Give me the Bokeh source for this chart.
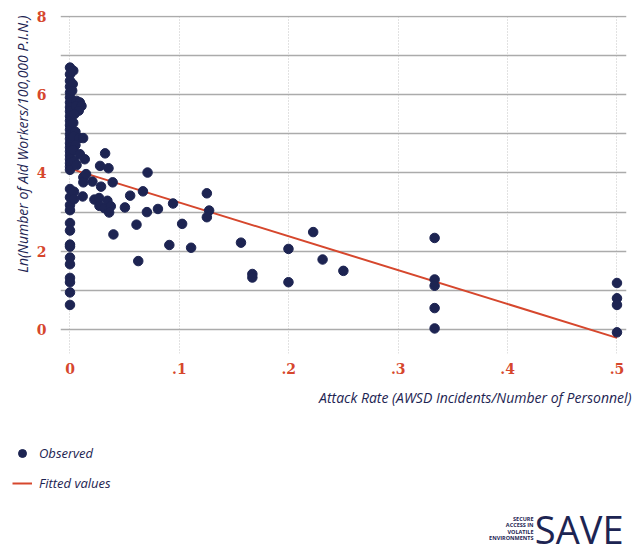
from bokeh.plotting import figure
from bokeh.models import (Range1d, FixedTicker, Legend, LegendItem, Label, Title)
from bokeh.embed import file_html
from bokeh.resources import INLINE

# ---------------- data ----------------
obs_x = [0.0]*23 + [0.0]*14 + [
    0.003, 0.0025, 0.002, 0.006, 0.009, 0.0055, 0.0105, 0.008, 0.004, 0.003,
    0.005, 0.003, 0.0085, 0.012, 0.005, 0.003, 0.009, 0.0135, 0.004, 0.006,
    0.0037, 0.0037, 0.0116, 0.0122, 0.0122, 0.0147, 0.0205, 0.0284, 0.0275, 0.0352,
    0.0321, 0.0223, 0.0266, 0.0269, 0.0315, 0.0342, 0.0373, 0.0358, 0.0502, 0.055,
    0.0397, 0.039, 0.0608, 0.0624, 0.0667, 0.0709, 0.0703, 0.0804, 0.0942, 0.1025,
    0.0908, 0.1107, 0.1251, 0.1272, 0.1251, 0.1563, 0.1667, 0.1667, 0.1997, 0.1997,
    0.2223, 0.2309, 0.2499,
    0.3333, 0.3333, 0.3333, 0.3333, 0.3333,
    0.5, 0.5, 0.5, 0.5]
obs_y = [6.69, 6.52, 6.35, 6.20, 6.05, 5.93, 5.80, 5.68, 5.57, 5.45, 5.33, 5.22,
         5.10, 4.98, 4.87, 4.76, 4.65, 4.55, 4.45, 4.35, 4.25, 4.16, 4.08,
         3.59, 3.38, 3.18, 3.05, 2.72, 2.53, 2.17, 2.12, 1.84, 1.67, 1.32, 1.21, 0.95, 0.63,
         6.61, 6.27, 6.10, 5.84, 5.80, 5.71, 5.71, 5.59, 5.50, 5.28,
         5.05, 4.93, 4.89, 4.89, 4.71, 4.58, 4.48, 4.35, 4.30, 4.20,
         3.52, 3.33, 3.40, 3.89, 3.76, 3.97, 3.78, 3.65, 4.18, 4.12,
         4.50, 3.32, 3.36, 3.16, 3.10, 3.29, 3.15, 2.99, 3.12, 3.42,
         2.43, 3.76, 2.68, 1.75, 3.53, 4.01, 3.00, 3.08, 3.22, 2.70,
         2.16, 2.09, 3.48, 3.04, 2.87, 2.22, 1.42, 1.33, 2.06, 1.21,
         2.49, 1.79, 1.50,
         2.34, 1.28, 1.12, 0.55, 0.03,
         1.19, 0.80, 0.63, -0.07]

fit_x = [0.0, 0.5]
fit_y = [4.11, -0.21]

x_ticks = [0, 0.1, 0.2, 0.3, 0.4, 0.5]
x_tick_labels = ["0", ".1", ".2", ".3", ".4", ".5"]
y_ticks = [0, 2, 4, 6, 8]
y_grid = [0, 1, 2, 3, 4, 5, 6, 7, 8]

x_title = "Attack Rate (AWSD Incidents/Number of Personnel)"
y_title = "Ln(Number of Aid Workers/100,000 P.I.N.)"
legend_labels = ["Observed", "Fitted values"]
logo_big = "SAVE"
logo_small = ["SECURE", "ACCESS IN", "VOLATILE", "ENVIRONMENTS"]

NAVY = "#1d2452"
RED = "#d6472d"

# ---------------- main chart ----------------
p = figure(width=640, height=387, output_backend="svg", toolbar_location=None,
           x_range=Range1d(-0.00868, 0.5087), y_range=Range1d(-0.61, 8.02),
           min_border_left=60, min_border_right=14, min_border_top=15,
           min_border_bottom=34)
p.outline_line_color = None
p.background_fill_color = "white"
p.border_fill_color = "white"

p.xgrid.ticker = FixedTicker(ticks=x_ticks)
p.ygrid.ticker = FixedTicker(ticks=y_grid)
p.xgrid.grid_line_color = "#c4c4c4"
p.xgrid.grid_line_dash = "1 2"
p.xgrid.grid_line_width = 1
p.ygrid.grid_line_color = "#ababab"
p.ygrid.grid_line_width = 1.6

for ax in (p.xaxis[0], p.yaxis[0]):
    ax.axis_line_color = None
    ax.major_tick_line_color = None
    ax.minor_tick_line_color = None
    ax.major_tick_out = 0
    ax.major_tick_in = 0
    ax.major_label_text_font = "DejaVu Serif"
    ax.major_label_text_font_style = "bold"
    ax.major_label_text_font_size = "14px"
    ax.major_label_text_color = RED

p.xaxis.ticker = FixedTicker(ticks=x_ticks)
p.xaxis.major_label_overrides = {t: l for t, l in zip(x_ticks, x_tick_labels)}
p.yaxis.ticker = FixedTicker(ticks=y_ticks)
p.xaxis.major_label_standoff = 9
p.yaxis.major_label_standoff = 14

# y-axis title, aligned to the top as in the reference
p.add_layout(Title(text=y_title, align="right", standoff=4,
                   text_font="Open Sans", text_font_style="italic",
                   text_font_size="14px", text_color=NAVY), "left")

r_fit = p.line(fit_x, fit_y, line_color=RED, line_width=2)
r_obs = p.scatter(obs_x, obs_y, size=9.5, fill_color=NAVY, line_color=NAVY)

# ---------------- x title + legend + logo strip ----------------
q = figure(width=640, height=168, output_backend="svg", toolbar_location=None,
           x_axis_location=None, y_axis_location=None,
           min_border_left=0, min_border_right=0, min_border_top=0, min_border_bottom=0)
q.grid.visible = False
q.outline_line_color = None
q.border_fill_color = "white"
q.background_fill_color = "white"

# x-axis title (right-aligned under the axis)
q.add_layout(Label(x=631, y=158, x_units="screen", y_units="screen", text=x_title,
                   text_align="right", text_baseline="alphabetic",
                   text_font="Open Sans", text_font_style="italic",
                   text_font_size="14px", text_color=NAVY))

nan = float("nan")
# legend keys styled like the chart's renderers (not drawn in the strip)
k_obs = q.scatter([nan], [nan], size=8, fill_color=NAVY, line_color=NAVY)
k_fit = q.line([nan, nan], [nan, nan], line_color=RED, line_width=2)

legend = Legend(items=[LegendItem(label=legend_labels[0], renderers=[k_obs]),
                       LegendItem(label=legend_labels[1], renderers=[k_fit])],
                location=(12, 62), orientation="vertical",
                border_line_color=None, background_fill_alpha=0,
                padding=0, margin=0, spacing=10, glyph_width=20, glyph_height=20,
                label_height=20, label_standoff=7,
                label_text_font="Open Sans", label_text_font_style="italic",
                label_text_color=NAVY, label_text_font_size="13px")
q.add_layout(legend, "center")

q.add_layout(Label(x=623, y=27, x_units="screen", y_units="screen", text=logo_big,
                   text_align="right", text_baseline="alphabetic",
                   text_font="Open Sans", text_font_size="38px", text_color=NAVY))
for i, s in enumerate(logo_small):
    q.add_layout(Label(x=533, y=37 - 6.5 * i, x_units="screen", y_units="screen", text=s,
                       text_align="right", text_baseline="alphabetic",
                       text_font="Open Sans", text_font_style="bold",
                       text_font_size="5.5px", text_color=NAVY))

open("out.html", "w").write(file_html([p, q], INLINE))
